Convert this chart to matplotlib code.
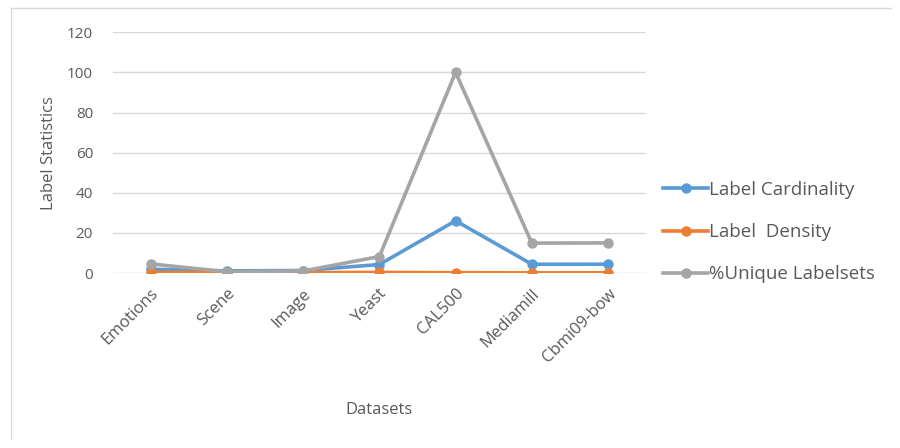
import matplotlib.pyplot as plt
import numpy as np
from matplotlib.lines import Line2D

plt.rcParams['font.family'] = ['Open Sans', 'DejaVu Sans']

datasets = ['Emotions', 'Scene', 'Image', 'Yeast', 'CAL500', 'Mediamill', 'Cbmi09-bow']
cardinality = [1.87, 1.07, 1.24, 4.24, 26.04, 4.38, 4.4]
density = [0.31, 0.18, 0.21, 0.30, 0.15, 0.08, 0.1]
unique_pct = [4.55, 0.62, 1.0, 8.2, 100.0, 14.9, 15.0]

series = [
    ('Label Cardinality', cardinality, '#5B9BD5'),
    ('Label  Density', density, '#ED7D31'),
    ('%Unique Labelsets', unique_pct, '#A5A5A5'),
]

txt = '#595959'

fig = plt.figure(figsize=(9, 4.48), dpi=100)
ax = fig.add_axes([0.125, 0.3906, 0.593, 0.5374])

x = np.arange(len(datasets))
for name, vals, col in series:
    ax.plot(x, vals, color=col, lw=2.6, marker='o', ms=6.5, label=name,
            solid_capstyle='round')

ax.set_xlim(-0.5, len(datasets) - 0.5)
ax.set_ylim(0, 120)
ax.set_yticks(np.arange(0, 121, 20))
ax.grid(axis='y', color='#d9d9d9', lw=1)
ax.set_axisbelow(True)
for s in ax.spines.values():
    s.set_visible(False)
ax.tick_params(length=0, colors=txt, labelsize=11)
ax.tick_params(axis='y', pad=14)
ax.set_xticks(x)
ax.set_xticklabels(datasets, rotation=45, ha='right', rotation_mode='anchor',
                   fontsize=12)
ax.tick_params(axis='x', pad=9)

ax.set_ylabel('Label Statistics', color=txt, fontsize=12, labelpad=7)
ax.set_xlabel('Datasets', color=txt, fontsize=12, labelpad=26)

handles = [Line2D([], [], color=c, lw=2.6, marker='o', ms=6.5) for _, _, c in series]
fig.legend(handles, [n for n, _, _ in series], loc='center left',
           bbox_to_anchor=(0.718, 0.482), frameon=False, fontsize=13.5,
           labelcolor=txt, handlelength=2.4, handletextpad=0.05,
           labelspacing=1.3)

# thin frame lines around the chart area
fig.add_artist(Line2D([0.012, 0.012], [0.02, 0.982], color='#d9d9d9', lw=1))
fig.add_artist(Line2D([0.012, 0.99], [0.982, 0.982], color='#d9d9d9', lw=1))

fig.savefig('out.png', dpi=100, facecolor='white')
